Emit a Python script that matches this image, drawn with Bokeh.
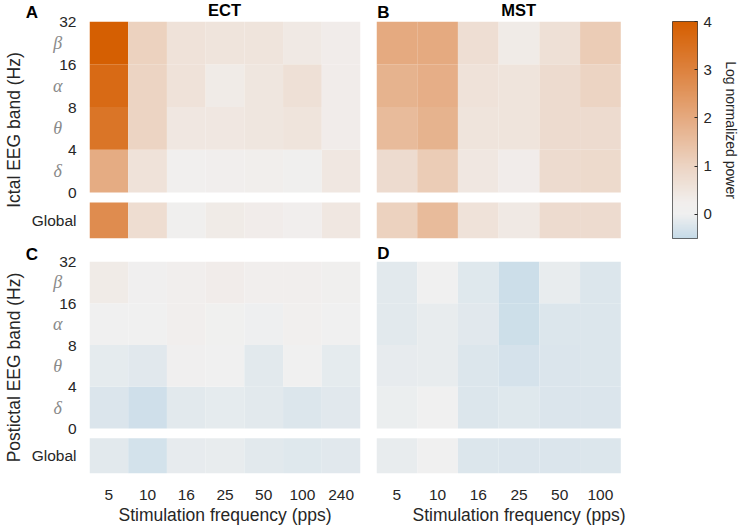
import numpy as np
from bokeh.plotting import figure
from bokeh.models import ColumnDataSource, LinearColorMapper, Range1d, FixedTicker
from bokeh.core.properties import value
from bokeh.layouts import column, row
from bokeh.embed import file_html
from bokeh.resources import INLINE

FONT = "Liberation Sans"
TXT = "#262626"

# ---------------- data ----------------
ect_freqs = ["5", "10", "16", "25", "50", "100", "240"]
mst_freqs = ["5", "10", "16", "25", "50", "100"]
band_names = ["δ", "θ", "α", "β"]          # bottom -> top
band_edges = ["0", "4", "8", "16", "32"]

# Ictal ECT (panel A)
ect_ictal_delta = [1.95, 0.60, 0.15, 0.20, 0.25, 0.10, 0.45]
ect_ictal_theta = [3.35, 1.00, 0.45, 0.45, 0.50, 0.55, 0.30]
ect_ictal_alpha = [3.65, 1.00, 0.60, 0.35, 0.50, 0.65, 0.30]
ect_ictal_beta = [3.95, 1.05, 0.60, 0.55, 0.55, 0.40, 0.30]
ect_ictal_global = [2.75, 0.75, 0.10, 0.35, 0.30, 0.20, 0.45]

# Ictal MST (panel B)
mst_ictal_delta = [0.80, 1.20, 0.45, 0.30, 0.80, 0.85]
mst_ictal_theta = [1.60, 1.80, 0.55, 0.55, 0.80, 0.80]
mst_ictal_alpha = [1.80, 1.90, 0.60, 0.55, 0.80, 1.00]
mst_ictal_beta = [2.00, 2.00, 0.70, 0.35, 0.65, 1.20]
mst_ictal_global = [1.05, 1.60, 0.60, 0.40, 0.80, 0.80]

# Postictal ECT (panel C)
ect_post_delta = [-0.25, -0.38, -0.15, -0.12, -0.15, -0.22, -0.18]
ect_post_theta = [-0.12, -0.18, 0.08, 0.00, -0.15, 0.00, -0.13]
ect_post_alpha = [0.00, 0.00, 0.20, 0.05, -0.02, 0.15, 0.00]
ect_post_beta = [0.35, 0.08, 0.20, 0.30, 0.20, 0.20, 0.10]
ect_post_global = [-0.15, -0.33, -0.10, -0.08, -0.15, -0.20, -0.18]

# Postictal MST (panel D)
mst_post_delta = [-0.05, 0.03, -0.22, -0.20, -0.25, -0.25]
mst_post_theta = [-0.10, -0.08, -0.22, -0.32, -0.25, -0.22]
mst_post_alpha = [-0.15, -0.08, -0.18, -0.40, -0.22, -0.22]
mst_post_beta = [-0.15, 0.00, -0.20, -0.42, -0.08, -0.22]
mst_post_global = [-0.08, 0.00, -0.22, -0.25, -0.25, -0.22]

cbar_ticks = [0, 1, 2, 3, 4]

# ---------------- colour map ----------------
anchor_v = [-0.5, 0.0, 0.25, 1.0, 2.0, 3.0, 4.0]
anchor_c = [(198, 219, 232), (240, 240, 240), (241, 238, 236), (236, 212, 195),
            (229, 170, 128), (221, 130, 62), (213, 94, 0)]
_v = np.linspace(-0.5, 4.0, 256)
_ch = [np.interp(_v, anchor_v, [c[k] for c in anchor_c]) for k in range(3)]
palette = ["#%02x%02x%02x" % (int(round(r)), int(round(g)), int(round(b)))
           for r, g, b in zip(*_ch)]
mapper = LinearColorMapper(palette=palette, low=-0.5, high=4.0)

# ---------------- geometry (in data units) ----------------
GLOBAL_Y = -0.655
GLOBAL_H = 0.842
Y_LO = -1.076
N_SLOTS = 7


def style_axis(ax, size="15.5px"):
    ax.axis_line_color = None
    ax.major_tick_line_color = None
    ax.minor_tick_line_color = None
    ax.major_label_text_font = FONT
    ax.major_label_text_font_size = size
    ax.major_label_text_color = TXT
    ax.axis_label_text_font = FONT
    ax.axis_label_text_font_size = "17.5px"
    ax.axis_label_text_font_style = "normal"
    ax.axis_label_text_color = TXT


def add_text(p, xs, ys, texts, font, size, style, color, align):
    src = ColumnDataSource(dict(x=xs, y=ys, t=texts))
    p.text(x="x", y="y", text="t", source=src, level="overlay",
           text_font=value(font), text_font_size=value(size),
           text_font_style=value(style), text_color=color,
           text_align=align, text_baseline="middle")


def panel(freqs, bands, glob, width, height, mb_left, mb_top, mb_bottom,
          show_y, show_x, ylabel=None, title=None, letter=None, letter_dy=0.21):
    xs, ys, hs, vs = [], [], [], []
    for i, vals in enumerate(bands):
        for j, v in enumerate(vals):
            xs.append(j + 0.5); ys.append(i + 0.5); hs.append(1.0); vs.append(v)
    for j, v in enumerate(glob):
        xs.append(j + 0.5); ys.append(GLOBAL_Y); hs.append(GLOBAL_H); vs.append(v)
    src = ColumnDataSource(dict(x=xs, y=ys, h=hs, v=vs))

    p = figure(width=width, height=height, output_backend="svg", toolbar_location=None,
               x_range=Range1d(0, N_SLOTS), y_range=Range1d(Y_LO, 4),
               x_axis_location="below" if show_x else None,
               y_axis_location="left" if show_y else None,
               min_border_left=mb_left, min_border_right=width - mb_left - 285,
               min_border_top=mb_top, min_border_bottom=mb_bottom)
    p.outline_line_color = None
    p.background_fill_color = "white"
    p.border_fill_color = "white"
    p.rect(x="x", y="y", width=1, height="h", source=src,
           fill_color={"field": "v", "transform": mapper}, line_color=None)

    if show_x:
        ax = p.xaxis[0]
        ax.ticker = FixedTicker(ticks=[j + 0.5 for j in range(len(freqs))])
        ax.major_label_overrides = {j + 0.5: f for j, f in enumerate(freqs)}
        style_axis(ax)
        ax.major_label_standoff = 10
        ax.axis_label = "Stimulation frequency (pps)"
        ax.axis_label_standoff = 2
    if show_y:
        ay = p.yaxis[0]
        ay.ticker = FixedTicker(ticks=[GLOBAL_Y, 0, 1, 2, 3, 4])
        ov = {float(k): t for k, t in enumerate(band_edges)}
        ov[GLOBAL_Y] = "Global"
        ay.major_label_overrides = ov
        style_axis(ay)
        ay.major_label_standoff = 7
        ay.axis_label = ylabel
        ay.axis_label_standoff = 5
        add_text(p, [-0.82] * len(band_names), [i + 0.5 for i in range(len(band_names))],
                 band_names, "Liberation Serif", "18px", "italic", "#8a8a8a", "center")
    if title:
        add_text(p, [3.49], [4.28], [title], FONT, "16.5px", "bold", "black", "center")
    if letter:
        lx = -1.646 if show_y else 0.02
        add_text(p, [lx], [4 + letter_dy], [letter], FONT, "17px", "bold", "black", "left")
    p.xgrid.grid_line_color = None
    p.ygrid.grid_line_color = None
    return p


pA = panel(ect_freqs, [ect_ictal_delta, ect_ictal_theta, ect_ictal_alpha, ect_ictal_beta],
           ect_ictal_global, 368, 245, 75, 21, 7, True, False,
           ylabel="Ictal EEG band (Hz)", title="ECT", letter="A", letter_dy=0.22)
pB = panel(mst_freqs, [mst_ictal_delta, mst_ictal_theta, mst_ictal_alpha, mst_ictal_beta],
           mst_ictal_global, 300, 245, 8, 21, 7, False, False,
           title="MST", letter="B", letter_dy=0.21)
pC = panel(ect_freqs, [ect_post_delta, ect_post_theta, ect_post_alpha, ect_post_beta],
           ect_post_global, 368, 282, 75, 16, 49, True, True,
           ylabel="Postictal EEG band (Hz)", letter="C", letter_dy=0.16)
pD = panel(mst_freqs, [mst_post_delta, mst_post_theta, mst_post_alpha, mst_post_beta],
           mst_post_global, 300, 282, 8, 16, 49, False, True,
           letter="D", letter_dy=0.19)

# ---------------- colour bar ----------------
cb = figure(width=73, height=245, output_backend="svg", toolbar_location=None,
            x_range=Range1d(0, 1), y_range=Range1d(-0.5, 4),
            x_axis_location=None, y_axis_location="right",
            min_border_left=4, min_border_right=40, min_border_top=21, min_border_bottom=7)
grad = np.linspace(-0.5, 4.0, 256).reshape(-1, 1)
cb.image(image=[grad], x=0, y=-0.5, dw=1, dh=4.5, color_mapper=mapper)
cb.outline_line_color = "#404040"
cb.outline_line_width = 1
cb.xgrid.grid_line_color = None
cb.ygrid.grid_line_color = None
cay = cb.yaxis[0]
cay.ticker = FixedTicker(ticks=cbar_ticks)
cay.axis_line_color = None
cay.major_tick_in = 3
cay.major_tick_out = 0
cay.major_tick_line_color = TXT
cay.minor_tick_line_color = None
cay.major_label_text_font = FONT
cay.major_label_text_font_size = "15px"
cay.major_label_text_color = TXT
cay.major_label_standoff = 6
cay.axis_label = "Log normalized power"
cay.axis_label_text_font = FONT
cay.axis_label_text_font_size = "14px"
cay.axis_label_text_font_style = "normal"
cay.axis_label_text_color = TXT
cay.axis_label_standoff = 8

layout = column(row(pA, pB, cb), row(pC, pD))

with open("out.html", "w") as f:
    f.write(file_html(layout, INLINE))
